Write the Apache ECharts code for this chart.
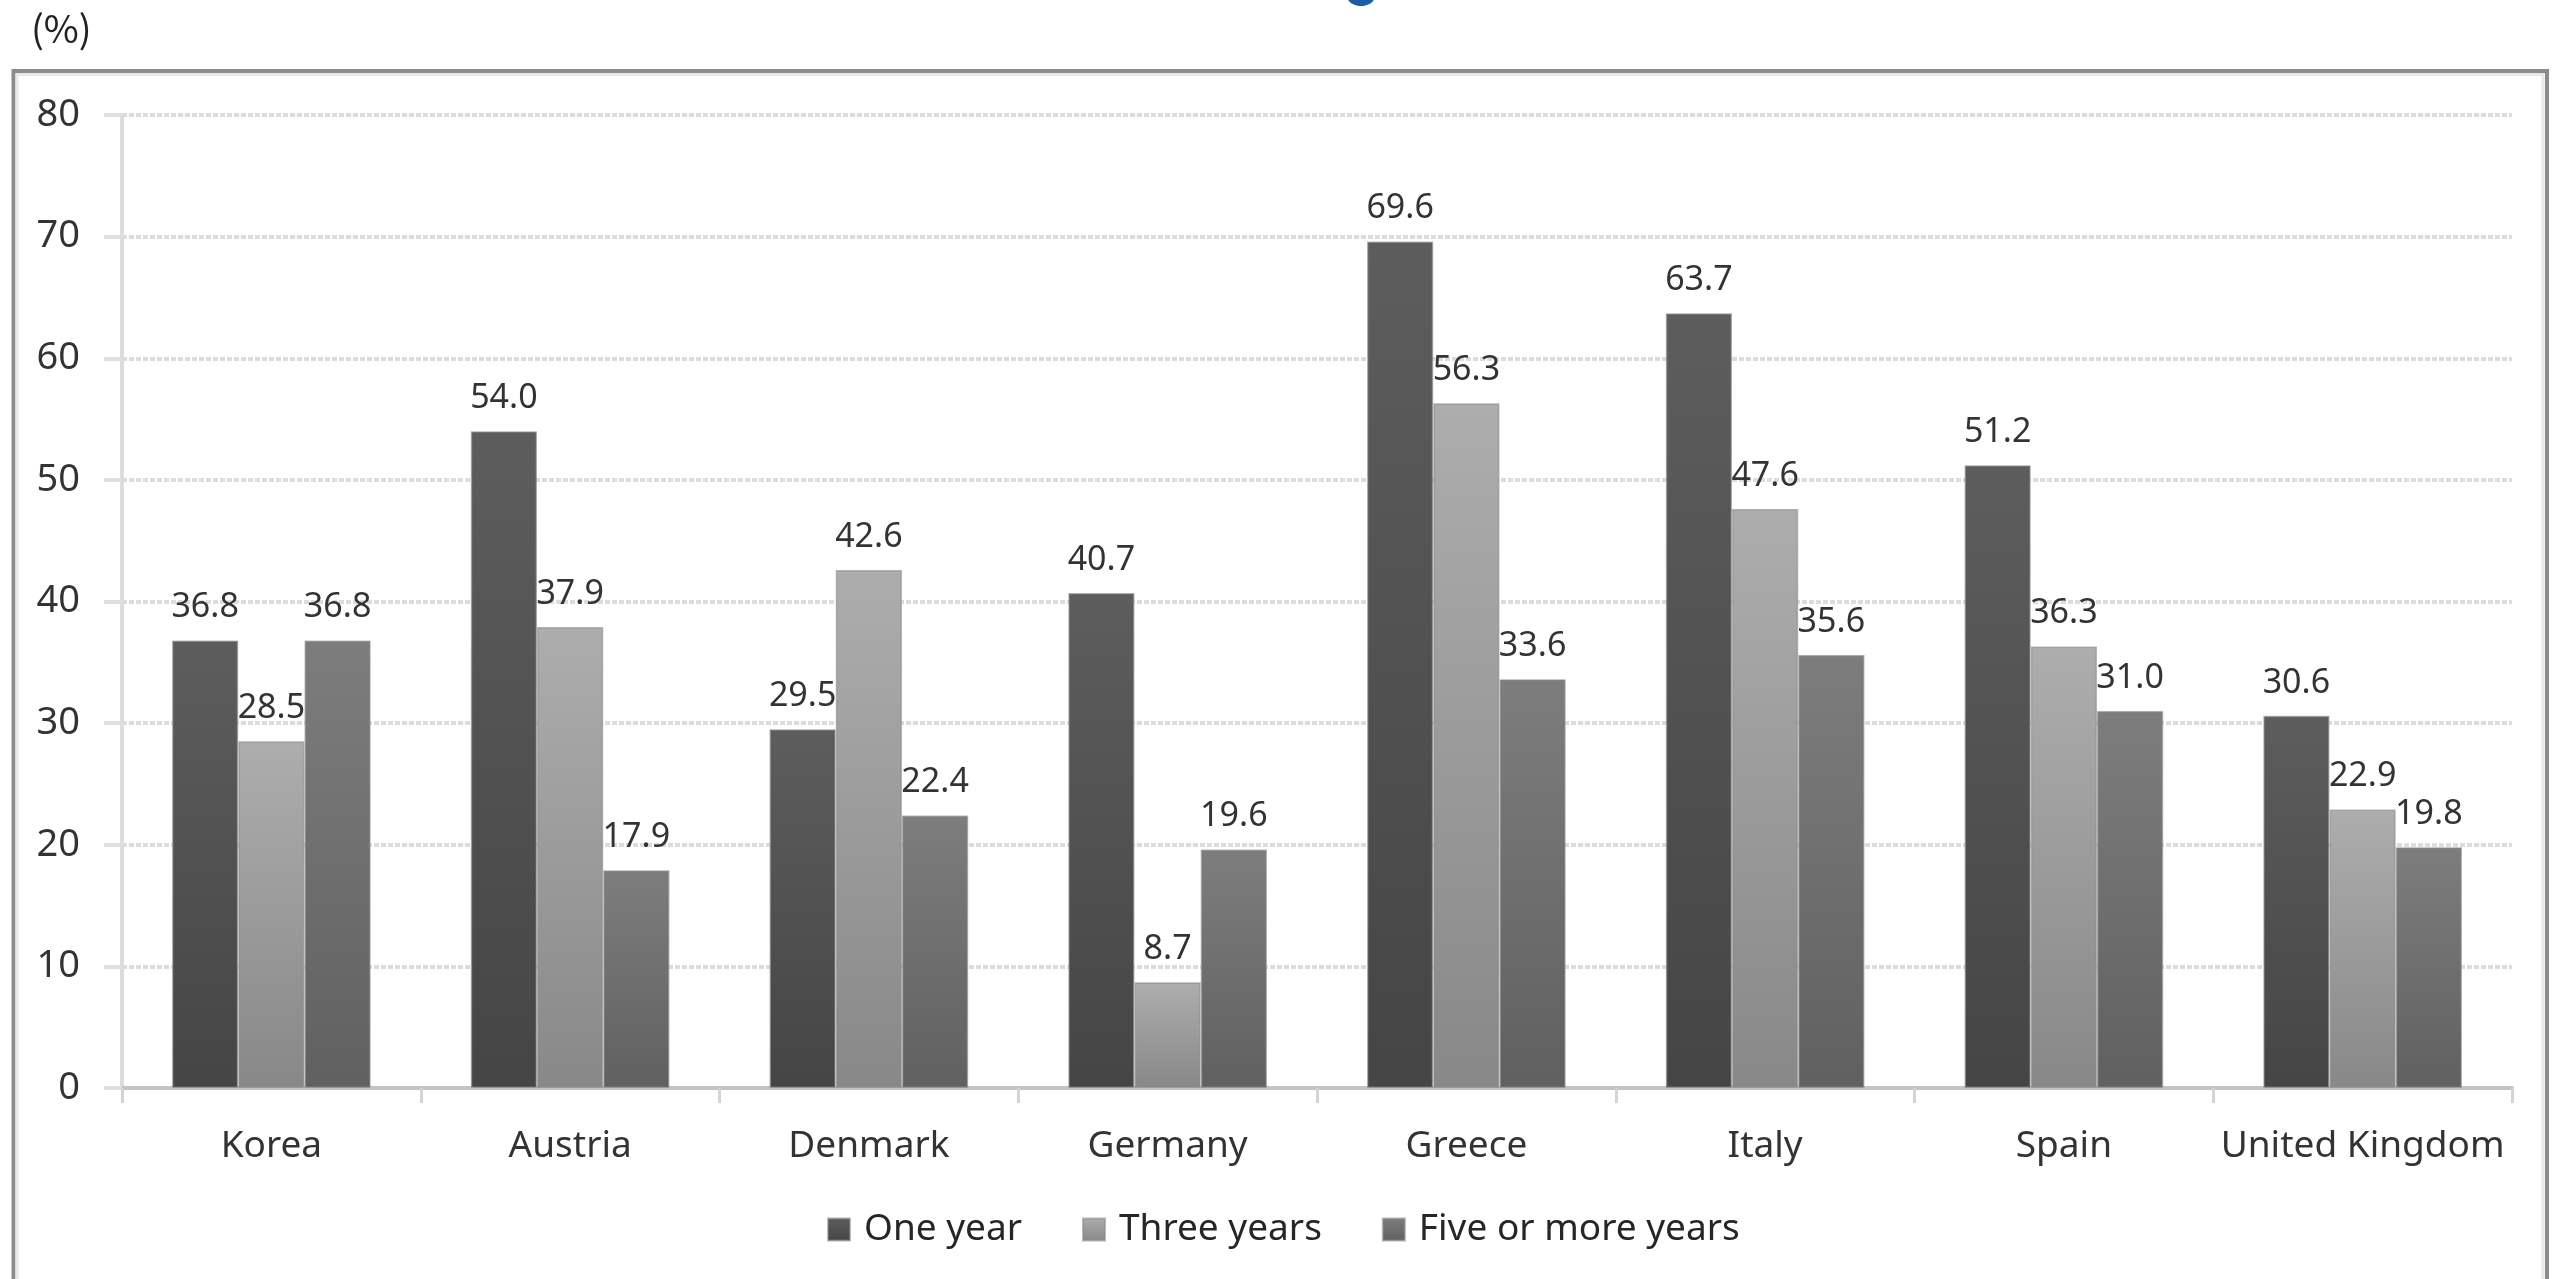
<!DOCTYPE html>
<html>
<head>
<meta charset="utf-8">
<script src="https://cdn.jsdelivr.net/npm/echarts@6/dist/echarts.min.js"></script>
<style>
  html, body { margin: 0; padding: 0; background: #ffffff; }
  #chart { width: 2561px; height: 1279px; }
</style>
</head>
<body>
<div id="chart"></div>
<script>
// Share of workers remaining in temporary jobs after one, three and five or more years (%)
const categories = ['Korea', 'Austria', 'Denmark', 'Germany', 'Greece', 'Italy', 'Spain', 'United Kingdom'];
const seriesNames = ['One year', 'Three years', 'Five or more years'];
const oneYear = [36.8, 54.0, 29.5, 40.7, 69.6, 63.7, 51.2, 30.6];
const threeYears = [28.5, 37.9, 42.6, 8.7, 56.3, 47.6, 36.3, 22.9];
const fiveYears = [36.8, 17.9, 22.4, 19.6, 33.6, 35.6, 31.0, 19.8];
const yMin = 0, yMax = 80, yStep = 10;

const FONT = 'Noto Sans';

function shade(top, bottom) {
  return new echarts.graphic.LinearGradient(0, 0, 0, 1, [
    { offset: 0, color: top },
    { offset: 1, color: bottom }
  ]);
}

const fills = [
  shade('#5d5d5d', '#454545'),
  shade('#adadad', '#888888'),
  shade('#7d7d7d', '#606060')
];

function barSeries(name, data, fill) {
  return {
    name: name,
    type: 'bar',
    data: data,
    barGap: '0%',
    barCategoryGap: '33.5%',
    itemStyle: { color: fill, borderColor: 'rgba(140,140,140,0.6)', borderWidth: 1.5 },
    label: {
      show: true,
      position: 'top',
      distance: 16,
      fontFamily: FONT,
      fontSize: 34,
      color: '#333333',
      formatter: p => p.value.toFixed(1)
    },
    emphasis: { disabled: true },
    animation: false
  };
}

const chart = echarts.init(document.getElementById('chart'), null, { renderer: 'canvas' });

chart.setOption({
  backgroundColor: '#ffffff',
  animation: false,
  grid: { left: 122, right: 49, top: 115, bottom: 191, containLabel: false },
  legend: {
    data: seriesNames,
    left: 822,
    top: 1206,
    icon: 'rect',
    itemWidth: 22,
    itemHeight: 22,
    itemGap: 60,
    textStyle: { fontFamily: FONT, fontSize: 37, color: '#262626', padding: [0, 0, 0, 9] }
  },
  xAxis: {
    type: 'category',
    data: categories,
    axisLine: { show: true, lineStyle: { color: '#c4c4c4', width: 4 } },
    axisTick: { show: true, length: 15, lineStyle: { color: '#d4d4d4', width: 3 } },
    axisLabel: { margin: 40, fontFamily: FONT, fontSize: 37, color: '#333333', interval: 0 },
    splitLine: { show: false }
  },
  yAxis: {
    type: 'value',
    min: yMin,
    max: yMax,
    interval: yStep,
    axisLine: { show: true, lineStyle: { color: '#dcdcdc', width: 4 } },
    axisTick: { show: true, length: 18, lineStyle: { color: '#dfdfdf', width: 4 } },
    axisLabel: { margin: 42, fontFamily: FONT, fontSize: 38, color: '#333333' },
    splitLine: { show: true, lineStyle: { color: '#dcdcdc', width: 4, type: [5, 2] } }
  },
  series: [
    barSeries(seriesNames[0], oneYear, fills[0]),
    barSeries(seriesNames[1], threeYears, fills[1]),
    barSeries(seriesNames[2], fiveYears, fills[2])
  ],
  graphic: [
    // frame around the chart area (open at the bottom edge of the page)
    { type: 'rect', silent: true, z: -1,
      shape: { x: 13.5, y: 71, width: 2533.5, height: 1300 },
      style: { fill: null, stroke: '#8c8c8c', lineWidth: 4 } },
    { type: 'rect', silent: true, z: -1,
      shape: { x: 17, y: 74.5, width: 2526, height: 1300 },
      style: { fill: null, stroke: '#e8e8e8', lineWidth: 3 } },
    // unit marker
    { type: 'text', left: 31, top: 10,
      style: { text: '(%)', fontFamily: 'Noto Sans CJK KR', fontSize: 38, fill: '#222222' } },
    // tail of the heading above the frame
    { type: 'ellipse', silent: true,
      shape: { cx: 1361, cy: -4, rx: 14, ry: 10 },
      style: { fill: '#1f5ca3' } }
  ]
});
</script>
</body>
</html>
